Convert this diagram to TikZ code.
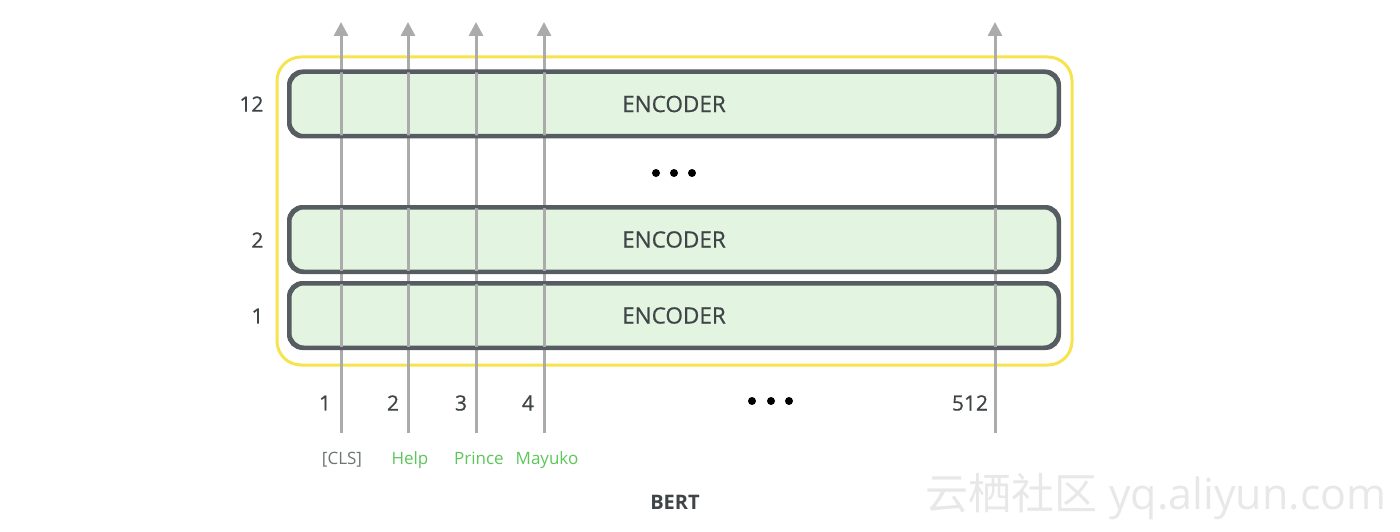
\documentclass[tikz,border=0pt]{standalone}
\usepackage{fontspec}
\setmainfont{Open Sans}
\newfontfamily\medfont[FakeBold=0.6]{Open Sans}
\newfontfamily\cjkfont{Noto Sans CJK SC}
\usepackage{tikz}
\usetikzlibrary{arrows.meta,positioning}

\definecolor{encfill}{HTML}{E3F5E1}
\definecolor{encline}{HTML}{565D62}
\definecolor{bertline}{HTML}{F6E34E}
\definecolor{flowgray}{HTML}{ABABAB}
\definecolor{numgray}{HTML}{3F4447}
\definecolor{tokgreen}{HTML}{5CC65A}

\begin{document}
\begin{tikzpicture}[x=1pt, y=-1pt,
    encoder/.style={rectangle, rounded corners=14pt, draw=encline, line width=3pt, fill=encfill,
        minimum width=768pt, minimum height=63pt, font=\medfont\fontsize{22.5}{26}\selectfont, text=numgray},
    encborder/.style={draw=encline, line width=3pt, rounded corners=14pt},
    bertbox/.style={rectangle, rounded corners=24pt, draw=bertline, line width=3pt,
        minimum width=795pt, minimum height=308pt},
    flow/.style={flowgray, line width=3pt, -{Triangle[width=14pt,length=14pt]}},
    layernum/.style={font=\medfont\fontsize{21}{24}\selectfont, text=numgray, anchor=east},
    posnum/.style={font=\medfont\fontsize{21}{24}\selectfont, text=numgray},
    token/.style={font=\fontsize{17}{20}\selectfont, text=tokgreen},
    dot/.style={circle, fill=black, inner sep=0pt, minimum size=8pt}
]
    \useasboundingbox (0,0) rectangle (1400,532);

    \node[bertbox] (bert) at (674.5,211) {};
    \node[encoder] (enc12) at (674,104) {ENCODER};
    \node[encoder] (enc2) at (674,239.5) {ENCODER};
    \node[encoder] (enc1) at (674,315.5) {ENCODER};

    % token streams
    \coordinate (in1) at (341,433);   \coordinate (out1) at (341,22);
    \coordinate (in2) at (408,433);   \coordinate (out2) at (408,22);
    \coordinate (in3) at (476,433);   \coordinate (out3) at (476,22);
    \coordinate (in4) at (544,433);   \coordinate (out4) at (544,22);
    \coordinate (in512) at (995,433); \coordinate (out512) at (995,22);
    \foreach \k in {1,2,3,4,512}
        \draw[flow] (in\k) -- (out\k);
    \foreach \e in {enc12,enc2,enc1}
        \draw[encborder] (\e.south west) rectangle (\e.north east);

    \node[layernum] (l12) at (267,104) {12};
    \node[layernum] (l2) at (267,240) {2};
    \node[layernum] (l1) at (267,316) {1};

    \node[dot] (d1) at (656,173) {};
    \node[dot] (d2) at (674,173) {};
    \node[dot] (d3) at (692,173) {};

    \node[posnum] (p1) at (325,403) {1};
    \node[posnum] (p2) at (393,403) {2};
    \node[posnum] (p3) at (461,403) {3};
    \node[posnum] (p4) at (528,403) {4};
    \node[posnum] (p512) at (970,403) {512};
    \node[dot] (e1) at (752,401) {};
    \node[dot] (e2) at (771,401) {};
    \node[dot] (e3) at (789,401) {};

    \node[token, text=numgray!75, anchor=base] (cls) at (342,464) {[CLS]};
    \node[token, anchor=base] (help) at (410,464) {Help};
    \node[token, anchor=base] (prince) at (479,464) {Prince};
    \node[token, anchor=base] (mayuko) at (547,464) {Mayuko};

    \node[font=\fontsize{20}{24}\selectfont\bfseries, text=numgray] (title) at (675,502) {BERT};

    \node[font=\fontsize{43}{48}\selectfont, text=black!9, anchor=east] (mark) at (1390,497)
        {{\cjkfont 云栖社区} yq.aliyun.com};
\end{tikzpicture}
\end{document}
